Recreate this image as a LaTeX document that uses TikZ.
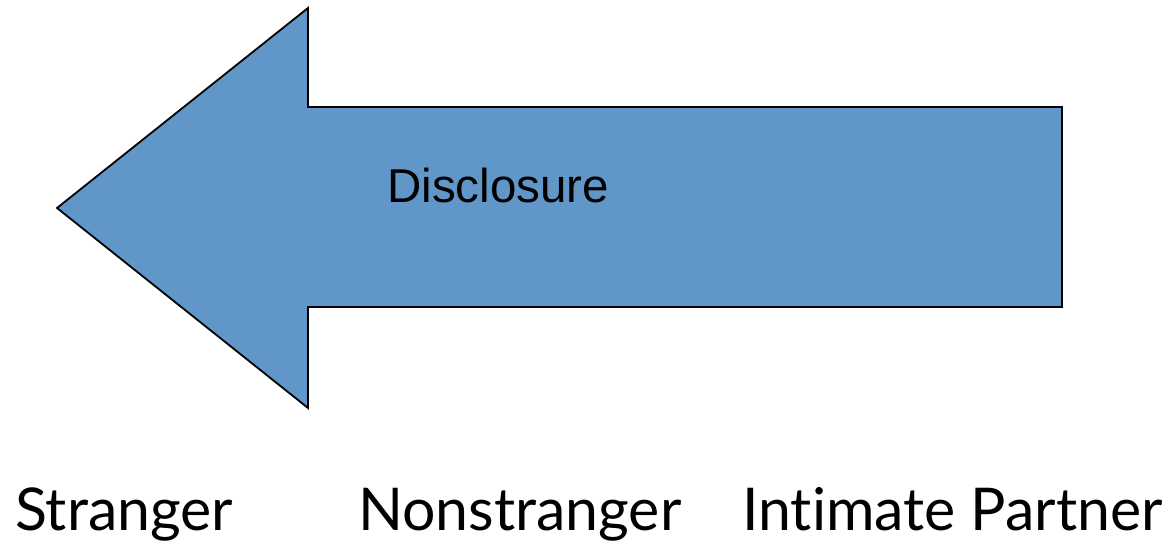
\documentclass[tikz,border=0pt]{standalone}
\usepackage{fontspec}
\newfontfamily\arialfont{Liberation Sans}
\newfontfamily\gillfont[Ligatures=NoCommon]{Lato}
\definecolor{arrowblue}{RGB}{96,150,200}

\begin{document}
\begin{tikzpicture}[x=1pt, y=1pt]

\useasboundingbox (0,0) rectangle (1170,544);

%%\draw[step=100, gray, very thin] (0,0) grid (1170,544);

\draw [line width=1.8pt, draw=black, fill=arrowblue, line join=miter]
	(57,336) -- (308,536) -- (308,437) -- (1062,437) -- (1062,237) -- (308,237) -- (308,136) -- cycle;

\node at (387,341) [anchor=base west, inner sep=0pt, font=\arialfont\fontsize{47.5}{50}\selectfont] (disclosure) {Disclosure};

\node at (15,14) [anchor=base west, inner sep=0pt, font=\gillfont\fontsize{59}{62}\selectfont] (stranger) {Stranger};
\node at (358,14) [anchor=base west, inner sep=0pt, font=\gillfont\fontsize{59}{62}\selectfont] (nonstranger) {Nonstranger};
\node at (742,14) [anchor=base west, inner sep=0pt, font=\gillfont\fontsize{59}{62}\selectfont] (partner) {Intimate Partner};

\end{tikzpicture}
\end{document}
